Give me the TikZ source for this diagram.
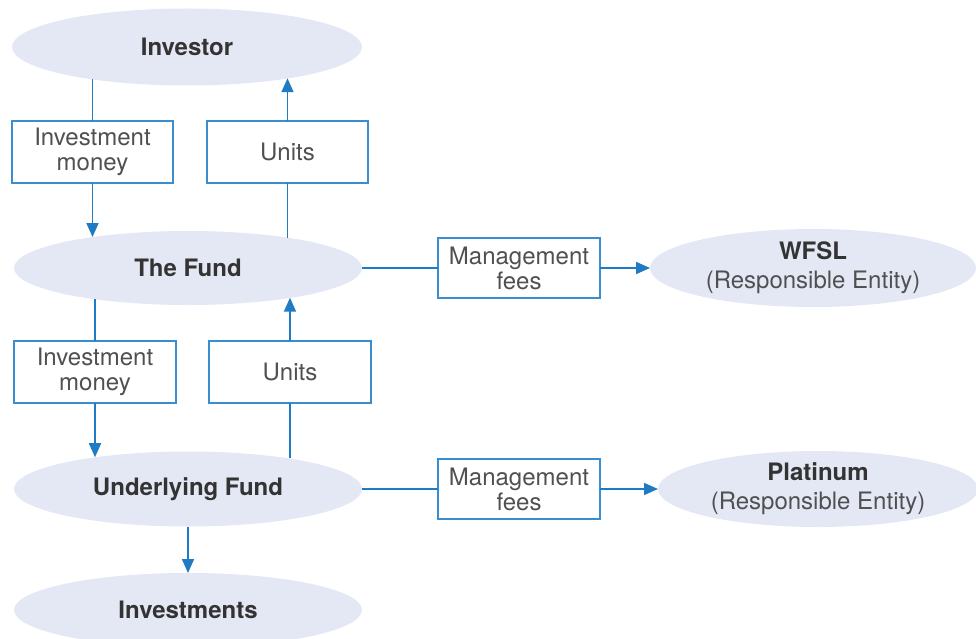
\documentclass[tikz,border=0pt]{standalone}
\usepackage{fontspec}
\setmainfont{TeX Gyre Heros}
\usetikzlibrary{shapes.geometric,arrows.meta}

\definecolor{ovalfill}{HTML}{E4E8F5}
\definecolor{flowblue}{HTML}{1F7BC3}
\definecolor{boxblue}{HTML}{3A8DCF}
\definecolor{darktext}{HTML}{333333}
\definecolor{lighttext}{HTML}{505050}

\tikzset{
  party/.style={ellipse, fill=ovalfill, inner sep=0pt, outer sep=0pt, text=darktext,
    font=\fontsize{24}{29}\selectfont\bfseries, align=center},
  flowbox/.style={draw=boxblue, line width=1.6pt, fill=white, inner sep=0pt, outer sep=0pt,
    minimum width=161pt, minimum height=62pt, text=lighttext,
    font=\fontsize{24}{25}\selectfont, align=center},
  flow/.style={draw=flowblue, line width=1.7pt},
  flowarrow/.style={flow, -{Triangle[length=14pt,width=12pt]}},
}

\begin{document}
\begin{tikzpicture}[x=1pt,y=-1pt]
      \useasboundingbox (0,0) rectangle (976,639);
      % parties
      \node[party, minimum width=350pt, minimum height=77pt] (investor) at (187,47) {Investor};
      \node[party, minimum width=348pt, minimum height=74pt] (fund) at (188,268) {The Fund};
      \node[party, minimum width=348pt, minimum height=75pt] (underlying) at (188,489) {Underlying Fund};
      \node[party, minimum width=348pt, minimum height=74pt] (investments) at (188,610) {Investments};
      \node[party, minimum width=326pt, minimum height=78pt] (wfsl) at (813,268)
        {WFSL\\{\mdseries\color{lighttext}(Responsible Entity)}};
      \node[party, minimum width=320pt, minimum height=76pt] (platinum) at (818,489)
        {Platinum\\{\mdseries\color{lighttext}(Responsible Entity)}};
      % flows
      \node[flowbox] (money1) at (92.5,152) {Investment\\money};
      \node[flowbox] (units1) at (287.5,152) {Units};
      \node[flowbox, minimum width=162pt] (money2) at (95,372) {Investment\\money};
      \node[flowbox, minimum width=162pt] (units2) at (290,372) {Units};
      \node[flowbox, minimum width=162pt, minimum height=60pt] (fees1) at (519,268) {Management\\fees};
      \node[flowbox, minimum width=162pt, minimum height=60pt] (fees2) at (519,489) {Management\\fees};
      \draw[flow] (investor.199 -| money1.north) -- (money1.north);
      \draw[flowarrow] (money1.south) -- (money1.south |- fund.162);
      \draw[flow] (fund.17 -| units1.south) -- (units1.south);
      \draw[flowarrow] (units1.north) -- (units1.north |- investor.343);
      \draw[flow] (fund.199 -| money2.north) -- (money2.north);
      \draw[flowarrow] (money2.south) -- (money2.south |- underlying.161);
      \draw[flow] (underlying.17 -| units2.south) -- (units2.south);
      \draw[flowarrow] (units2.north) -- (units2.north |- fund.344);
      \draw[flowarrow] (underlying.south) -- (investments.north);
      \draw[flow] (fund.east) -- (fees1.west);
      \draw[flowarrow] (fees1.east) -- (wfsl.west);
      \draw[flow] (underlying.east) -- (fees2.west);
      \draw[flowarrow] (fees2.east) -- (platinum.west);
\end{tikzpicture}
\end{document}
